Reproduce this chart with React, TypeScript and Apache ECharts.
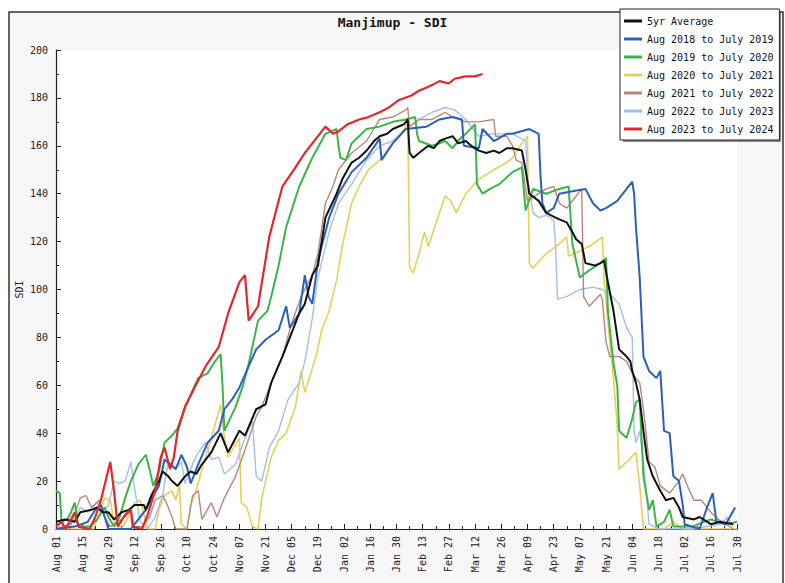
import React, { useEffect, useRef } from "react";
import * as echarts from "echarts";

const tickLabels = ["Aug 01","Aug 15","Aug 29","Sep 12","Sep 26","Oct 10","Oct 24","Nov 07","Nov 21","Dec 05","Dec 19","Jan 02","Jan 16","Jan 30","Feb 13","Feb 27","Mar 12","Mar 26","Apr 09","Apr 23","May 07","May 21","Jun 04","Jun 18","Jul 02","Jul 16","Jul 30"];

const seriesNames = ["5yr Average","Aug 2018 to July 2019","Aug 2019 to July 2020","Aug 2020 to July 2021","Aug 2021 to July 2022","Aug 2022 to July 2023","Aug 2023 to July 2024"];

// [day since Aug 01, SDI]
const avg5yr = [[0,3],[5,4],[10,3],[13,7],[19,8],[22,9],[25,7],[28,7],[31,4],[35,7],[39,8],[42,10],[47,10],[48,8],[51,14],[55,20],[57,24],[60,22],[62,20],[65,18],[69,22],[72,24],[75,23],[78,27],[83,32],[88,40],[92,32],[98,41],[101,39],[107,50],[112,52],[115,61],[121,72],[126,82],[130,90],[133,94],[137,106],[140,110],[144,130],[150,140],[153,146],[158,153],[162,155],[166,158],[170,162],[173,164],[177,165],[180,167],[186,169],[188,171],[189,157],[191,155],[194,157],[199,160],[202,159],[205,162],[208,163],[212,164],[215,161],[219,162],[222,160],[226,158],[230,157],[234,158],[237,157],[241,159],[244,159],[249,158],[251,150],[253,140],[258,137],[262,132],[267,130],[270,129],[273,128],[276,124],[278,121],[281,119],[283,111],[288,110],[291,111],[293,112],[295,103],[298,91],[301,75],[305,72],[307,70],[308,66],[310,61],[312,54],[314,41],[316,29],[319,22],[323,16],[326,12],[330,13],[333,9],[335,5],[341,4],[344,5],[350,2],[355,3],[362,2]];

const y2018 = [[0,0],[10,1],[17,3],[21,8],[24,10],[26,5],[28,0],[40,0],[44,4],[48,8],[52,14],[55,18],[58,29],[61,27],[64,25],[67,31],[70,26],[72,19],[76,27],[81,36],[87,41],[90,50],[94,54],[98,59],[103,68],[107,75],[112,79],[119,83],[123,93],[125,84],[130,90],[133,106],[135,97],[137,94],[140,112],[146,130],[151,140],[158,149],[166,155],[173,163],[174,154],[180,161],[187,167],[198,168],[205,171],[212,172],[217,171],[218,160],[226,159],[228,167],[234,162],[241,165],[244,165],[253,167],[258,165],[259,147],[260,136],[262,132],[266,134],[269,140],[276,141],[283,142],[287,136],[291,133],[294,134],[300,137],[305,142],[308,145],[309,140],[310,126],[312,105],[314,72],[317,66],[321,63],[323,66],[325,41],[328,40],[330,22],[333,20],[335,10],[336,2],[344,0],[348,9],[351,15],[353,3],[358,2],[363,9]];

const y2019 = [[0,16],[2,15],[3,3],[6,4],[8,7],[10,11],[12,1],[18,1],[22,4],[26,9],[28,5],[31,1],[34,5],[37,13],[40,20],[44,27],[48,31],[50,25],[52,18],[55,24],[58,36],[62,39],[65,42],[69,51],[72,56],[76,63],[81,65],[85,70],[88,73],[89,60],[90,41],[93,46],[96,51],[100,60],[103,69],[108,87],[113,91],[115,97],[119,110],[123,126],[130,143],[137,155],[144,165],[150,167],[151,160],[152,155],[155,154],[158,161],[162,164],[166,167],[173,168],[180,170],[187,171],[192,172],[193,165],[194,162],[201,160],[205,161],[208,162],[212,159],[216,163],[219,165],[224,169],[225,144],[228,140],[232,142],[237,144],[244,149],[249,151],[251,133],[255,142],[262,140],[269,142],[274,143],[276,119],[280,105],[285,108],[291,111],[294,113],[295,91],[298,69],[300,60],[301,41],[305,38],[308,46],[310,53],[312,54],[314,22],[317,8],[319,12],[321,1],[325,3],[328,8],[330,1],[340,1],[350,4],[358,2],[364,3]];

const y2020 = [[0,0],[20,0],[24,8],[26,13],[29,12],[31,3],[35,0],[38,4],[42,11],[45,12],[47,6],[49,0],[53,0],[55,8],[58,14],[62,16],[64,12],[66,18],[67,2],[70,0],[72,10],[74,14],[76,19],[78,25],[83,38],[88,52],[90,38],[92,30],[95,34],[98,38],[99,11],[102,9],[105,1],[108,0],[110,13],[115,30],[119,37],[123,40],[128,51],[131,66],[133,57],[139,72],[142,83],[146,91],[150,104],[153,118],[158,136],[162,143],[167,150],[173,154],[180,161],[187,168],[188,172],[189,109],[191,107],[194,115],[197,124],[199,118],[205,132],[208,139],[211,137],[214,132],[219,140],[226,146],[234,150],[241,153],[244,155],[248,160],[252,164],[253,111],[255,109],[262,115],[269,119],[273,122],[274,114],[280,116],[287,119],[292,122],[293,103],[296,78],[298,63],[300,43],[301,25],[305,28],[310,32],[312,18],[314,0],[325,0],[330,3],[335,0],[364,0]];

const y2021 = [[0,0],[8,2],[13,13],[16,14],[19,9],[23,12],[26,5],[29,1],[33,3],[37,5],[40,8],[42,1],[46,1],[50,5],[53,12],[57,14],[59,11],[62,5],[64,0],[70,0],[73,14],[76,16],[78,4],[83,11],[86,5],[90,13],[96,22],[101,33],[107,47],[110,51],[115,61],[121,72],[126,86],[131,97],[137,106],[140,115],[144,136],[148,143],[151,150],[158,157],[166,162],[173,171],[180,172],[187,175],[188,176],[189,168],[194,171],[201,171],[208,174],[212,172],[219,170],[226,170],[234,171],[235,164],[241,164],[244,160],[246,154],[249,153],[252,137],[258,140],[262,142],[266,143],[269,136],[273,134],[277,138],[281,142],[282,97],[285,93],[291,98],[292,96],[294,78],[296,72],[301,72],[305,70],[308,65],[312,61],[314,50],[317,28],[320,26],[323,18],[328,15],[333,20],[335,23],[338,17],[341,12],[345,12],[350,7],[354,4],[358,2],[362,0]];

const y2022 = [[0,0],[8,2],[13,9],[17,7],[22,11],[26,8],[28,10],[31,20],[34,19],[37,20],[40,28],[42,17],[45,3],[49,0],[53,5],[57,14],[60,28],[63,26],[65,26],[67,28],[69,19],[73,27],[76,32],[80,36],[83,29],[87,30],[90,23],[96,27],[101,38],[105,45],[107,22],[110,20],[114,34],[119,41],[124,54],[130,61],[133,70],[137,88],[140,105],[146,124],[151,136],[158,144],[166,154],[173,160],[180,162],[187,167],[194,171],[201,174],[208,176],[213,175],[219,171],[226,164],[233,165],[244,165],[251,162],[252,147],[255,132],[258,130],[262,131],[266,129],[267,119],[268,96],[273,97],[280,100],[287,101],[292,100],[296,98],[301,94],[305,84],[308,80],[309,41],[310,36],[312,41],[314,28],[317,2],[322,0],[340,0],[355,2],[359,5],[362,1]];

const y2023 = [[0,1],[3,3],[5,0],[8,4],[10,7],[12,1],[18,0],[21,5],[24,12],[29,28],[31,16],[33,1],[37,6],[40,8],[41,1],[46,0],[49,6],[53,16],[56,30],[58,34],[61,25],[63,30],[65,41],[69,51],[74,59],[80,68],[87,76],[92,90],[98,103],[101,106],[103,87],[108,93],[114,122],[121,143],[128,151],[133,157],[137,161],[142,166],[144,168],[148,165],[151,166],[156,169],[162,171],[167,172],[173,174],[178,176],[183,179],[190,181],[194,183],[200,185],[205,187],[210,186],[213,188],[219,189],[224,189],[228,190]];

const seriesData = [avg5yr, y2018, y2019, y2020, y2021, y2022, y2023];
const colors = ["#111111","#2c60b8","#3cb449","#e6d05a","#b8877c","#a3bfea","#e0282c"];
const widths = [2, 2, 2, 1.6, 1.4, 1.4, 2.2];
const drawOrder = [3, 5, 4, 2, 1, 0, 6];

const MONO = "'DejaVu Sans Mono', 'Liberation Mono', monospace";

export default function App() {
  const ref = useRef<HTMLDivElement>(null);
  useEffect(() => {
    const chart = echarts.init(ref.current!, null, { renderer: "svg" });
    chart.setOption({
      animation: false,
      backgroundColor: "#ffffff",
      title: {
        text: "Manjimup - SDI",
        left: "center",
        top: 11,
        textStyle: { fontFamily: MONO, fontSize: 13, fontWeight: "bold", color: "#111" },
      },
      graphic: [
        {
          type: "rect",
          z: -10,
          shape: { x: 9, y: 12, width: 774, height: 590 },
          style: { fill: "#f7f7f7", stroke: "#333", lineWidth: 1.5 },
        },
        {
          type: "rect",
          z: 1,
          shape: { x: 623, y: 12, width: 158, height: 130 },
          style: { fill: "rgba(0,0,0,0.45)" },
        },
      ],
      legend: {
        data: seriesNames,
        orient: "vertical",
        left: 620,
        top: 9,
        padding: [6, 6, 5, 4],
        itemGap: 6,
        itemWidth: 18,
        itemHeight: 3,
        icon: "rect",
        backgroundColor: "#ffffff",
        borderColor: "#222",
        borderWidth: 1,
        textStyle: { fontFamily: MONO, fontSize: 10, color: "#111", lineHeight: 12 },
      },
      grid: {
        left: 56,
        right: 48,
        top: 50,
        bottom: 54,
        show: true,
        backgroundColor: "#ffffff",
        borderWidth: 0,
      },
      xAxis: {
        type: "value",
        min: 0,
        max: 364,
        interval: 14,
        axisLine: { lineStyle: { color: "#222", width: 1.2 } },
        axisTick: { inside: true, length: 5, lineStyle: { color: "#222" } },
        minorTick: { show: true, splitNumber: 2, length: 3, lineStyle: { color: "#222" } },
        splitLine: { show: false },
        axisLabel: {
          rotate: 90,
          margin: 7,
          fontFamily: MONO,
          fontSize: 10,
          color: "#222",
          formatter: (v: number) => tickLabels[Math.round(v / 14)] ?? "",
        },
      },
      yAxis: {
        type: "value",
        min: 0,
        max: 200,
        interval: 20,
        name: "SDI",
        nameLocation: "middle",
        nameGap: 32,
        nameMoveOverlap: false,
        nameRotate: 90,
        nameTextStyle: { fontFamily: MONO, fontSize: 10, color: "#222" },
        axisLine: { show: true, lineStyle: { color: "#222", width: 1.2 } },
        axisTick: { show: true, inside: true, length: 5, lineStyle: { color: "#222" } },
        minorTick: { show: true, splitNumber: 2, length: 3, lineStyle: { color: "#222" } },
        splitLine: { show: false },
        axisLabel: { fontFamily: MONO, fontSize: 10, color: "#222", margin: 8 },
      },
      series: drawOrder.map((i) => ({
        name: seriesNames[i],
        type: "line",
        data: seriesData[i],
        showSymbol: false,
        symbol: "none",
        color: colors[i],
        lineStyle: { color: colors[i], width: widths[i] },
      })),
    });
    return () => chart.dispose();
  }, []);
  return (
    <div
      ref={ref}
      style={{ position: "absolute", left: 0, top: 0, width: 785, height: 583 }}
    />
  );
}
